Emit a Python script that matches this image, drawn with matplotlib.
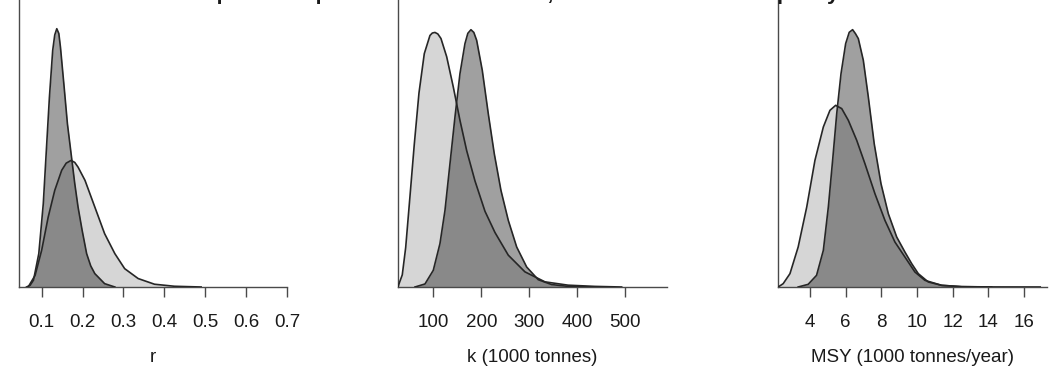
import matplotlib
matplotlib.use("Agg")
import matplotlib.pyplot as plt

plt.rcParams['font.family'] = ['Liberation Sans', 'DejaVu Sans']

# ---------------- data ----------------
# Panel 1: r
r_prior_x = [0.067, 0.084, 0.100, 0.116, 0.132, 0.149, 0.160, 0.172, 0.181, 0.189,
             0.206, 0.230, 0.254, 0.279, 0.303, 0.336, 0.376, 0.425, 0.490]
r_prior_d = [0.00, 0.80, 2.52, 4.80, 6.63, 8.01, 8.50, 8.69, 8.55, 8.23,
             7.32, 5.49, 3.66, 2.29, 1.26, 0.58, 0.19, 0.05, 0.00]
r_post_x = [0.063, 0.072, 0.080, 0.093, 0.104, 0.111, 0.119, 0.127, 0.132, 0.137,
            0.142, 0.146, 0.155, 0.163, 0.172, 0.181, 0.189, 0.199, 0.210, 0.220,
            0.230, 0.254, 0.279]
r_post_d = [0.00, 0.12, 0.46, 2.29, 5.72, 9.15, 13.03, 16.24, 17.30, 17.73,
            17.40, 16.46, 13.72, 11.21, 9.15, 7.09, 5.49, 3.89, 2.29, 1.45,
            0.92, 0.23, 0.00]

# Panel 2: k (1000 tonnes)
k_prior_x = [26.5, 28.5, 35.4, 42.5, 51.5, 60.4, 70.2, 81.3, 93.1, 98.0, 103.5, 109.5,
             116.0, 127.9, 141.7, 155.6, 169.6, 186.9, 207.7, 228.5, 256.3, 291.0,
             332.7, 381.0, 436.9, 492.5]
k_prior_d = [0.0000, 0.0001, 0.0004, 0.0013, 0.0030, 0.0047, 0.0064, 0.0077, 0.0083,
             0.00838, 0.0084, 0.00835, 0.0082, 0.0076, 0.0066, 0.0055, 0.0045, 0.0035,
             0.0025, 0.0018, 0.00105, 0.0005, 0.00017, 0.00006, 0.00002, 0.0000]
k_post_x = [61.9, 82.7, 100.0, 113.9, 124.4, 134.8, 145.2, 155.6, 166.0, 172.0,
            178.5, 184.5, 190.4, 202.1, 214.6, 227.1, 241.0, 256.3, 273.8, 294.6,
            318.8, 346.7, 381.3, 437.0]
k_post_d = [0.0000, 0.0001, 0.00055, 0.00143, 0.00253, 0.00407, 0.00561, 0.00704,
            0.00803, 0.00837, 0.00849, 0.00840, 0.00814, 0.00715, 0.00572, 0.00440,
            0.00319, 0.00220, 0.00132, 0.00066, 0.00024, 0.00008, 0.00002, 0.0000]

# Panel 3: MSY (1000 tonnes/year)
m_prior_x = [2.22, 2.50, 2.88, 3.34, 3.82, 4.28, 4.75, 5.12, 5.44, 5.78, 6.15,
             6.62, 7.08, 7.64, 8.20, 8.76, 9.32, 9.88, 10.44, 11.38, 12.50, 14.18]
m_prior_d = [0.000, 0.005, 0.020, 0.060, 0.120, 0.190, 0.240, 0.265, 0.2725, 0.2676,
             0.250, 0.220, 0.185, 0.140, 0.100, 0.0675, 0.045, 0.0225, 0.010, 0.0025,
             0.0005, 0.000]
m_post_x = [3.34, 3.90, 4.37, 4.75, 5.03, 5.27, 5.50, 5.74, 6.00, 6.20, 6.39, 6.55,
            6.71, 6.99, 7.27, 7.60, 7.98, 8.39, 8.86, 9.32, 9.70, 10.07, 10.63, 11.38,
            12.50, 14.18, 16.90]
m_post_d = [0.000, 0.004, 0.0175, 0.055, 0.120, 0.190, 0.260, 0.320, 0.365, 0.382,
            0.386, 0.380, 0.3726, 0.340, 0.285, 0.215, 0.155, 0.110, 0.075, 0.0525,
            0.035, 0.020, 0.0075, 0.0025, 0.0005, 0.0001, 0.000]

r_ticks = [0.1, 0.2, 0.3, 0.4, 0.5, 0.6, 0.7]
r_labels = ["0.1", "0.2", "0.3", "0.4", "0.5", "0.6", "0.7"]
k_ticks = [100, 200, 300, 400, 500]
k_labels = ["100", "200", "300", "400", "500"]
m_ticks = [4, 6, 8, 10, 12, 14, 16]
m_labels = ["4", "6", "8", "10", "12", "14", "16"]

xlabels = ["r", "k (1000 tonnes)", "MSY (1000 tonnes/year)"]
title = "Overlaid prior and posterior densities of r, k and MSY under the policy scenario"

# ---------------- layout / style ----------------
W, H = 1058, 379
fig = plt.figure(figsize=(W / 100, H / 100), dpi=100)

panels = [
    dict(px=r_prior_x, pd=r_prior_d, qx=r_post_x, qd=r_post_d, ticks=r_ticks,
         labels=r_labels, xlim=(0.0446, 0.70), ymax=19.7, left=19, right=287),
    dict(px=k_prior_x, pd=k_prior_d, qx=k_post_x, qd=k_post_d, ticks=k_ticks,
         labels=k_labels, xlim=(26.5, 587), ymax=0.00947, left=398, right=667),
    dict(px=m_prior_x, pd=m_prior_d, qx=m_post_x, qd=m_post_d, ticks=m_ticks,
         labels=m_labels, xlim=(2.21, 17.28), ymax=0.4305, left=778, right=1047),
]

base_px = 287
light = '#d6d6d6'
dark = (48 / 255, 48 / 255, 48 / 255)
edge = '#262626'
axcol = '#4a4a4a'
fs = 13.5

for p, lab in zip(panels, xlabels):
    ax = fig.add_axes([p['left'] / W, (H - base_px) / H,
                       (p['right'] - p['left']) / W, base_px / H])
    ax.fill_between(p['px'], p['pd'], 0, color=light, lw=0, zorder=1)
    ax.fill_between(p['qx'], p['qd'], 0, color=dark, alpha=0.46, lw=0, zorder=2)
    ax.plot(p['px'], p['pd'], color=edge, lw=1.2, zorder=3, solid_joinstyle='round')
    ax.plot(p['qx'], p['qd'], color=edge, lw=1.2, zorder=3, solid_joinstyle='round')
    ax.set_xlim(*p['xlim'])
    ax.set_ylim(0, p['ymax'])
    for s in ('top', 'right'):
        ax.spines[s].set_visible(False)
    for s in ('left', 'bottom'):
        ax.spines[s].set_color(axcol)
        ax.spines[s].set_linewidth(1.0)
    ax.set_yticks([])
    ax.set_xticks(p['ticks'])
    ax.set_xticklabels(p['labels'])
    ax.tick_params(axis='x', length=7.2, width=1.0, color=axcol, pad=12,
                   labelsize=fs, labelcolor='#1a1a1a')
    ax.patch.set_alpha(0)
    cx = (p['left'] + p['right']) / 2 / W
    fig.text(cx, (H - 357) / H, lab, ha='center', va='center', fontsize=fs,
             color='#1a1a1a')

# Title: in the reference it is cut off by the top edge, only descenders show
t = fig.text(0.5, 1.0, title, ha='center', va='baseline', fontsize=17,
             fontweight='bold', color='#1a1a1a')
fig.canvas.draw()
wpx = t.get_window_extent().width
t.set_fontsize(17 * 808 / wpx)

fig.savefig('out.png', dpi=100, facecolor='white')
